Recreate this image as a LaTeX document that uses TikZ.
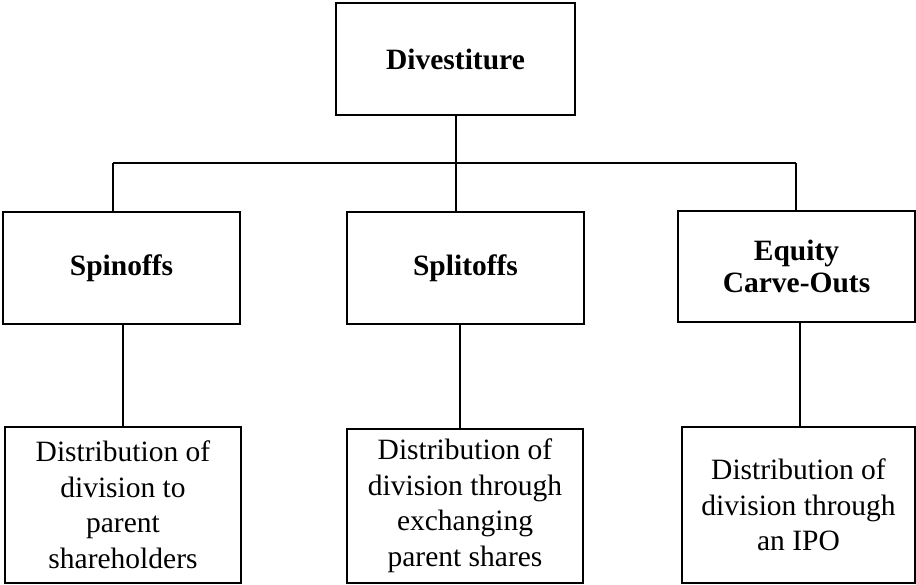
\documentclass[tikz,border=0pt]{standalone}
\usepackage{fontspec}
\setmainfont{Liberation Serif}
\begin{document}
\begin{tikzpicture}[x=1pt,y=-1pt,
  headbox/.style={draw, line width=2pt, align=center, inner sep=0pt,
    font=\fontsize{29.5}{32}\selectfont\bfseries},
  descbox/.style={draw, line width=1.8pt, align=center, inner sep=0pt,
    font=\fontsize{29.5}{35.5}\selectfont},
  link/.style={draw, line width=2pt}]
  \useasboundingbox (0,0) rectangle (916,585);

  % top level
  \node[headbox, minimum width=239pt, minimum height=112pt] (div) at (455.5,59) {Divestiture};

  % second level
  \node[headbox, minimum width=237pt, minimum height=112pt] (spin) at (121.5,268) {Spinoffs};
  \node[headbox, minimum width=237pt, minimum height=112pt] (split) at (465.5,268) {Splitoffs};
  \node[headbox, minimum width=237pt, minimum height=111pt] (equity) at (796.5,266.5) {Equity\\Carve-Outs};

  % descriptions
  \node[descbox, minimum width=236pt, minimum height=156pt] (d1) at (123,505)
    {Distribution of\\division to\\parent\\shareholders};
  \node[descbox, minimum width=236pt, minimum height=154pt] (d2) at (465,506)
    {Distribution of\\division through\\exchanging\\parent shares};
  \node[descbox, minimum width=233pt, minimum height=156pt] (d3) at (798.5,505)
    {Distribution of\\division through\\an IPO};

  % bus joining the second level
  \coordinate (jL) at (113,163);
  \coordinate (jR) at (796,163);
  \coordinate (c2) at (460,0);

  \draw[link] (jL) -- (jR);
  \draw[link] (div.south) -- (div.south |- jL);
  \draw[link] (jL) -- (jL |- spin.north);
  \draw[link] (div.south |- jL) -- (div.south |- split.north);
  \draw[link] (jR) -- (jR |- equity.north);

  % drops to the descriptions
  \draw[link] (d1.north |- spin.south) -- (d1.north);
  \draw[link] (c2 |- split.south) -- (c2 |- d2.north);
  \draw[link] (jR |- equity.south) ++(4,0) -- ([xshift=1.5pt]d3.north);
\end{tikzpicture}
\end{document}
